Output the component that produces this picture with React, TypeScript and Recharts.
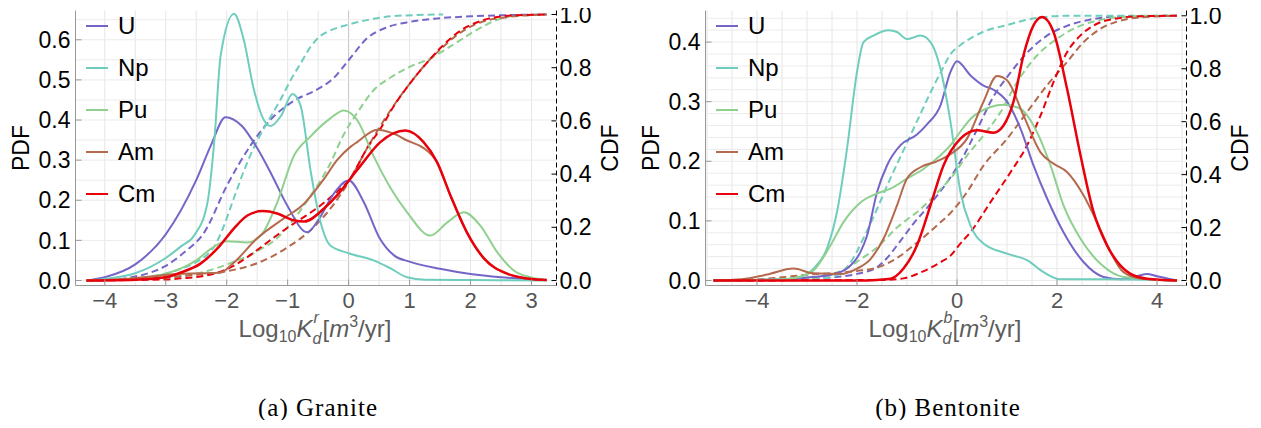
import { LineChart, Line, XAxis, YAxis, ReferenceLine } from "recharts"

type Pt = [number, number]

const species = ["U", "Np", "Pu", "Am", "Cm"]
const colors = ["#7466c8", "#6fcdbd", "#8fd08f", "#b5694d", "#e8000b"]

const graniteXTicks = [-4, -3, -2, -1, 0, 1, 2, 3]
const bentoniteXTicks = [-4, -2, 0, 2, 4]
const granitePdfTicks = [0, 0.1, 0.2, 0.3, 0.4, 0.5, 0.6]
const bentonitePdfTicks = [0, 0.1, 0.2, 0.3, 0.4]
const cdfTicks = [0, 0.2, 0.4, 0.6, 0.8, 1]

// granite, PDF
const graniteU: Pt[] = [[-4.3, 0], [-4, 0.008], [-3.5, 0.04], [-3, 0.115], [-2.5, 0.25], [-2.25, 0.34], [-2.02, 0.407], [-1.75, 0.385], [-1.5, 0.33], [-1.25, 0.26], [-1, 0.185], [-0.68, 0.12], [-0.5, 0.15], [-0.25, 0.215], [0, 0.249], [0.25, 0.195], [0.5, 0.108], [0.75, 0.062], [1, 0.047], [1.5, 0.029], [2, 0.016], [2.5, 0.008], [3, 0.003], [3.25, 0.001]]
const graniteNp: Pt[] = [[-4.3, 0], [-4, 0.004], [-3.5, 0.018], [-3, 0.056], [-2.75, 0.085], [-2.53, 0.113], [-2.32, 0.19], [-2.2, 0.354], [-2.1, 0.56], [-1.88, 0.665], [-1.72, 0.6], [-1.56, 0.48], [-1.39, 0.4], [-1.28, 0.385], [-1.11, 0.41], [-0.92, 0.465], [-0.79, 0.437], [-0.62, 0.27], [-0.46, 0.145], [-0.3, 0.087], [0, 0.068], [0.41, 0.05], [0.69, 0.03], [0.96, 0.008], [1.25, 0.002], [2, 0.001], [3.25, 0]]
const granitePu: Pt[] = [[-4.3, 0], [-3.5, 0.005], [-3, 0.017], [-2.75, 0.03], [-2.5, 0.05], [-2.25, 0.08], [-2, 0.098], [-1.66, 0.095], [-1.44, 0.112], [-1.17, 0.195], [-0.9, 0.31], [-0.62, 0.36], [-0.3, 0.404], [-0.08, 0.424], [0.14, 0.4], [0.41, 0.31], [0.69, 0.23], [0.96, 0.17], [1.34, 0.112], [1.62, 0.145], [1.89, 0.17], [2.16, 0.137], [2.44, 0.07], [2.71, 0.025], [2.98, 0.008], [3.25, 0.001]]
const graniteAm: Pt[] = [[-4.3, 0], [-3.75, 0.003], [-3.25, 0.01], [-2.75, 0.017], [-2.4, 0.018], [-2.1, 0.02], [-1.88, 0.045], [-1.5, 0.105], [-1.06, 0.155], [-0.74, 0.19], [-0.4, 0.254], [-0.19, 0.3], [0.03, 0.333], [0.14, 0.345], [0.47, 0.376], [0.74, 0.366], [0.96, 0.349], [1.23, 0.33], [1.45, 0.295], [1.67, 0.212], [1.94, 0.12], [2.22, 0.055], [2.6, 0.017], [2.93, 0.005], [3.25, 0.001]]
const graniteCm: Pt[] = [[-4.3, 0], [-3.5, 0.002], [-3, 0.008], [-2.75, 0.02], [-2.43, 0.042], [-2.11, 0.087], [-1.88, 0.13], [-1.66, 0.162], [-1.41, 0.173], [-1.17, 0.167], [-0.9, 0.15], [-0.73, 0.147], [-0.4, 0.18], [-0.19, 0.212], [0.03, 0.254], [0.2, 0.287], [0.52, 0.345], [0.93, 0.374], [1.23, 0.345], [1.45, 0.295], [1.67, 0.212], [1.94, 0.12], [2.22, 0.055], [2.6, 0.017], [2.93, 0.005], [3.25, 0.001]]

// granite, CDF
const graniteUCdf: Pt[] = [[-4.3, 0], [-4, 0.002], [-3.5, 0.015], [-3, 0.055], [-2.7, 0.105], [-2.37, 0.18], [-2, 0.355], [-1.61, 0.507], [-1.28, 0.605], [-0.9, 0.675], [-0.5, 0.72], [-0.25, 0.76], [0, 0.828], [0.31, 0.912], [0.63, 0.952], [1, 0.972], [1.4, 0.984], [2, 0.993], [2.5, 0.997], [3.25, 1]]
const graniteNpCdf: Pt[] = [[-4.3, 0], [-4, 0.002], [-3.5, 0.008], [-3, 0.026], [-2.75, 0.044], [-2.53, 0.065], [-2.32, 0.097], [-2.2, 0.129], [-2.1, 0.175], [-1.88, 0.311], [-1.72, 0.411], [-1.56, 0.497], [-1.39, 0.572], [-1.28, 0.615], [-1.11, 0.683], [-0.92, 0.766], [-0.79, 0.815], [-0.62, 0.88], [-0.46, 0.92], [-0.3, 0.94], [0, 0.962], [0.41, 0.984], [0.8, 0.995], [1.55, 1]]
const granitePuCdf: Pt[] = [[-4.3, 0], [-3.5, 0.003], [-3, 0.01], [-2.5, 0.025], [-2, 0.06], [-1.5, 0.11], [-1.17, 0.16], [-0.9, 0.23], [-0.62, 0.32], [-0.3, 0.44], [-0.1, 0.54], [0.14, 0.63], [0.41, 0.715], [0.7, 0.765], [1.02, 0.805], [1.34, 0.835], [1.67, 0.88], [2.05, 0.935], [2.5, 0.985], [2.8, 0.997], [3.25, 1]]
const graniteAmCdf: Pt[] = [[-4.3, 0], [-3.5, 0.005], [-3, 0.012], [-2.5, 0.022], [-2, 0.035], [-1.5, 0.065], [-1, 0.125], [-0.62, 0.19], [-0.3, 0.27], [0, 0.37], [0.31, 0.5], [0.74, 0.658], [1.02, 0.745], [1.29, 0.82], [1.51, 0.87], [1.84, 0.933], [2.16, 0.97], [2.6, 0.99], [3.25, 1]]
const graniteCmCdf: Pt[] = [[-4.3, 0], [-3.5, 0.002], [-3, 0.004], [-2.75, 0.008], [-2.43, 0.015], [-2.11, 0.032], [-1.88, 0.056], [-1.66, 0.088], [-1.41, 0.13], [-1.17, 0.171], [-0.9, 0.214], [-0.73, 0.239], [-0.4, 0.293], [-0.19, 0.334], [0, 0.375], [0.31, 0.5], [0.52, 0.57], [0.74, 0.655], [1.02, 0.745], [1.29, 0.82], [1.51, 0.875], [1.84, 0.94], [2.16, 0.975], [2.6, 0.995], [3.25, 1]]

// bentonite, PDF
const bentoniteU: Pt[] = [[-4.87, 0], [-3.5, 0.002], [-3, 0.005], [-2.5, 0.01], [-2.2, 0.02], [-1.93, 0.048], [-1.8, 0.075], [-1.6, 0.148], [-1.4, 0.193], [-1.13, 0.227], [-0.8, 0.245], [-0.6, 0.262], [-0.33, 0.294], [-0.13, 0.35], [0, 0.368], [0.27, 0.344], [0.53, 0.327], [0.73, 0.32], [1, 0.3], [1.27, 0.255], [1.53, 0.193], [1.8, 0.138], [2.13, 0.081], [2.53, 0.031], [2.93, 0.006], [3.3, 0.002], [3.6, 0.007], [3.8, 0.011], [4, 0.007], [4.4, 0]]
const bentoniteNp: Pt[] = [[-4.87, 0], [-4, 0.001], [-3.5, 0.002], [-3.13, 0.006], [-2.87, 0.02], [-2.6, 0.054], [-2.4, 0.115], [-2.2, 0.221], [-2, 0.35], [-1.87, 0.4], [-1.67, 0.411], [-1.37, 0.42], [-1.2, 0.417], [-1, 0.405], [-0.73, 0.411], [-0.53, 0.4], [-0.33, 0.355], [-0.13, 0.266], [0.07, 0.148], [0.27, 0.092], [0.53, 0.062], [1, 0.045], [1.4, 0.034], [1.73, 0.014], [2.07, 0.002], [3, 0.002], [4.4, 0]]
const bentonitePu: Pt[] = [[-4.87, 0], [-4, 0.001], [-3.5, 0.002], [-3.27, 0.004], [-2.87, 0.017], [-2.53, 0.059], [-2.27, 0.098], [-1.93, 0.131], [-1.6, 0.146], [-1.33, 0.154], [-1, 0.171], [-0.67, 0.187], [-0.33, 0.21], [-0.13, 0.227], [0.07, 0.25], [0.27, 0.271], [0.67, 0.291], [0.93, 0.295], [1.27, 0.288], [1.6, 0.249], [1.87, 0.193], [2.13, 0.126], [2.47, 0.07], [2.87, 0.028], [3.33, 0.006], [4.4, 0]]
const bentoniteAm: Pt[] = [[-4.87, 0], [-4.3, 0.002], [-3.8, 0.01], [-3.27, 0.02], [-2.87, 0.012], [-2.33, 0.011], [-2, 0.02], [-1.73, 0.036], [-1.47, 0.07], [-1.2, 0.126], [-1, 0.171], [-0.73, 0.19], [-0.4, 0.2], [-0.13, 0.212], [0.2, 0.238], [0.53, 0.3], [0.8, 0.343], [1, 0.336], [1.33, 0.277], [1.67, 0.215], [1.93, 0.196], [2.2, 0.182], [2.53, 0.143], [2.8, 0.098], [3.07, 0.048], [3.33, 0.014], [3.7, 0.003], [4.4, 0]]
const bentoniteCm: Pt[] = [[-4.87, 0], [-2, 0], [-1.6, 0.001], [-1.33, 0.003], [-1.07, 0.02], [-0.8, 0.059], [-0.53, 0.126], [-0.27, 0.193], [0.07, 0.238], [0.4, 0.252], [0.73, 0.248], [0.93, 0.26], [1.13, 0.3], [1.33, 0.378], [1.53, 0.428], [1.7, 0.442], [1.93, 0.417], [2.2, 0.322], [2.47, 0.21], [2.73, 0.115], [3, 0.059], [3.27, 0.025], [3.47, 0.011], [3.8, 0.003], [4.4, 0]]

// bentonite, CDF
const bentoniteUCdf: Pt[] = [[-4.87, 0], [-3.5, 0.003], [-3, 0.006], [-2.5, 0.012], [-2, 0.025], [-1.6, 0.05], [-1.4, 0.085], [-1.13, 0.15], [-0.87, 0.215], [-0.53, 0.29], [-0.13, 0.39], [0.13, 0.47], [0.4, 0.57], [0.73, 0.695], [1.07, 0.785], [1.4, 0.86], [1.8, 0.925], [2.2, 0.962], [2.67, 0.986], [3.2, 0.997], [4.4, 1]]
const bentoniteNpCdf: Pt[] = [[-4.87, 0], [-3.5, 0.002], [-3, 0.005], [-2.6, 0.01], [-2.4, 0.02], [-2.2, 0.05], [-2, 0.11], [-1.87, 0.16], [-1.67, 0.24], [-1.37, 0.37], [-1, 0.52], [-0.73, 0.63], [-0.53, 0.71], [-0.33, 0.785], [-0.13, 0.855], [0.07, 0.89], [0.27, 0.915], [0.53, 0.94], [1, 0.965], [1.4, 0.985], [1.73, 0.995], [2.2, 1], [4.4, 1]]
const bentonitePuCdf: Pt[] = [[-4.87, 0], [-4, 0.001], [-3.27, 0.004], [-2.87, 0.01], [-2.53, 0.022], [-2.27, 0.04], [-1.93, 0.08], [-1.6, 0.125], [-1.2, 0.2], [-0.73, 0.27], [-0.33, 0.345], [-0.13, 0.385], [0.2, 0.472], [0.53, 0.548], [0.87, 0.636], [1.2, 0.749], [1.6, 0.85], [2, 0.913], [2.4, 0.957], [2.8, 0.982], [3.3, 0.995], [4, 1], [4.4, 1]]
const bentoniteAmCdf: Pt[] = [[-4.87, 0], [-4, 0.004], [-3.5, 0.012], [-3, 0.022], [-2.5, 0.028], [-2, 0.036], [-1.5, 0.055], [-1.2, 0.085], [-0.87, 0.132], [-0.33, 0.22], [-0.13, 0.255], [0.2, 0.334], [0.53, 0.434], [1, 0.535], [1.4, 0.636], [1.8, 0.737], [2.2, 0.825], [2.53, 0.9], [2.87, 0.951], [3.2, 0.978], [3.6, 0.993], [4.4, 1]]
const bentoniteCmCdf: Pt[] = [[-4.87, 0], [-1.5, 0.002], [-1.07, 0.008], [-0.73, 0.03], [-0.33, 0.069], [-0.13, 0.094], [0.07, 0.14], [0.27, 0.183], [0.67, 0.296], [1.07, 0.409], [1.4, 0.51], [1.67, 0.623], [1.93, 0.749], [2.2, 0.862], [2.47, 0.926], [2.8, 0.97], [3.2, 0.99], [3.6, 0.998], [4.4, 1]]

const font = "'Liberation Sans', Arial, sans-serif"
const toPts = (a: Pt[]) => a.map(([x, y]) => ({ x, y }))
const minus = (v: number) => (v < 0 ? `\u2212${Math.abs(v)}` : `${v}`)
const steps = (from: number, to: number, step: number) => {
  const out: number[] = []
  for (let v = from; v <= to + 1e-9; v += step) out.push(Math.round(v * 1000) / 1000)
  return out
}

interface PanelProps {
  left: number
  pdfs: Pt[][]
  cdfs: Pt[][]
  xDomain: [number, number]
  xTicks: number[]
  pdfDomain: [number, number]
  pdfTicks: number[]
  cdfDomain: [number, number]
  gridY: number[]
  sup: string
  caption: string
}

// Log10 K_d^x [m^3/yr], sub and sup stacked after the K
function XTitle({ sup }: { sup: string }) {
  const small = { fontSize: 16, lineHeight: "16px" }
  return (
    <div style={{ position: "absolute", left: 315, top: 329, transform: "translate(-50%,-50%)", color: "#5c5c5c", fontSize: 24, whiteSpace: "nowrap", lineHeight: "30px" }}>
      Log<span style={{ ...small, position: "relative", top: 5 }}>10</span>
      <i>K</i>
      <span style={{ position: "relative", display: "inline-block", width: 10, height: 0 }}>
        <i style={{ ...small, position: "absolute", left: 1, top: -27 }}>{sup}</i>
        <i style={{ ...small, position: "absolute", left: 0, top: -6 }}>d</i>
      </span>
      [<i>m</i>
      <span style={{ ...small, position: "relative", top: -10 }}>3</span>/yr]
    </div>
  )
}

function Panel({ left, pdfs, cdfs, xDomain, xTicks, pdfDomain, pdfTicks, cdfDomain, gridY, sup, caption }: PanelProps) {
  const gridX = steps(Math.ceil(xDomain[0] * 2) / 2, xDomain[1], 0.5)
  return (
    <div style={{ position: "absolute", left, top: 0, width: 630, height: 428, fontFamily: font }}>
      <LineChart width={630} height={340} margin={{ top: 10.5, right: 0, bottom: 0, left: 0 }}>
        {gridX.map((v) => (
          <ReferenceLine key={"gx" + v} x={v} yAxisId="pdf" stroke={v === 0 ? "#c4c4c4" : "#e6e6e6"} strokeWidth={1} />
        ))}
        {gridY.map((v) => (
          <ReferenceLine key={"gy" + v} y={v} yAxisId="pdf" stroke="#ebebeb" strokeWidth={1} />
        ))}
        <XAxis
          type="number"
          dataKey="x"
          domain={xDomain}
          ticks={xTicks}
          allowDataOverflow
          height={54.5}
          tickFormatter={minus}
          axisLine={{ stroke: "#999" }}
          tickLine={{ stroke: "#999" }}
          tickSize={-6}
          tickMargin={13}
          tick={{ fill: "#555", fontSize: 22, fontFamily: font }}
        />
        <XAxis xAxisId="top" orientation="top" type="number" domain={xDomain} height={0} tick={false} tickLine={false} axisLine={{ stroke: "#aaa" }} />
        <YAxis
          yAxisId="pdf"
          type="number"
          domain={pdfDomain}
          ticks={pdfTicks}
          allowDataOverflow
          width={75.5}
          tickFormatter={(v: number) => v.toFixed(1)}
          axisLine={{ stroke: "#999" }}
          tickLine={{ stroke: "#999" }}
          tickSize={-6}
          tickMargin={11}
          tick={{ fill: "#000", fontSize: 23, fontFamily: font }}
        />
        <YAxis
          yAxisId="cdf"
          orientation="right"
          type="number"
          domain={cdfDomain}
          ticks={cdfTicks}
          allowDataOverflow
          width={73.5}
          tickFormatter={(v: number) => v.toFixed(1)}
          axisLine={{ stroke: "#000", strokeDasharray: "5 3" }}
          tickLine={{ stroke: "#000" }}
          tickSize={-5}
          tickMargin={8}
          tick={{ fill: "#000", fontSize: 23, fontFamily: font }}
        />
        {cdfs.map((d, i) => (
          <Line
            key={"c" + i}
            data={toPts(d)}
            dataKey="y"
            yAxisId="cdf"
            type="monotone"
            stroke={colors[i]}
            strokeWidth={2}
            strokeDasharray="7 4"
            dot={false}
            isAnimationActive={false}
          />
        ))}
        {pdfs.map((d, i) => (
          <Line
            key={"p" + i}
            data={toPts(d)}
            dataKey="y"
            yAxisId="pdf"
            type="monotone"
            stroke={colors[i]}
            strokeWidth={i === 4 ? 2.5 : 2}
            dot={false}
            isAnimationActive={false}
          />
        ))}
      </LineChart>

      {/* legend */}
      {species.map((s, i) => (
        <div key={s} style={{ position: "absolute", left: 86, top: 26 + i * 42 - 15, height: 30, display: "flex", alignItems: "center" }}>
          <span style={{ display: "inline-block", width: 22, height: 2, background: colors[i], marginRight: 10 }} />
          <span style={{ fontSize: 24, color: "#000" }}>{s}</span>
        </div>
      ))}

      <div style={{ position: "absolute", left: 21, top: 148, transform: "translate(-50%,-50%) rotate(-90deg)", fontSize: 23 }}>PDF</div>
      <div style={{ position: "absolute", left: 610, top: 148, transform: "translate(-50%,-50%) rotate(-90deg)", fontSize: 23 }}>CDF</div>

      <XTitle sup={sup} />

      <div style={{ position: "absolute", left: 318, top: 408, transform: "translate(-50%,-50%)", fontFamily: "'Liberation Serif', 'Times New Roman', serif", fontSize: 25, letterSpacing: 1, whiteSpace: "nowrap" }}>
        {caption}
      </div>
    </div>
  )
}

export default function App() {
  return (
    <div style={{ position: "relative", width: 1261, height: 428, margin: -8, background: "#fff", overflow: "hidden" }}>
      <Panel
        left={0}
        pdfs={[graniteU, graniteNp, granitePu, graniteAm, graniteCm]}
        cdfs={[graniteUCdf, graniteNpCdf, granitePuCdf, graniteAmCdf, graniteCmCdf]}
        xDomain={[-4.48, 3.41]}
        xTicks={graniteXTicks}
        pdfDomain={[-0.0125, 0.673]}
        pdfTicks={granitePdfTicks}
        cdfDomain={[-0.0188, 1.015]}
        gridY={steps(0, 0.65, 0.05)}
        sup="r"
        caption="(a) Granite"
      />
      <Panel
        left={630}
        pdfs={[bentoniteU, bentoniteNp, bentonitePu, bentoniteAm, bentoniteCm]}
        cdfs={[bentoniteUCdf, bentoniteNpCdf, bentonitePuCdf, bentoniteAmCdf, bentoniteCmCdf]}
        xDomain={[-5.03, 4.59]}
        xTicks={bentoniteXTicks}
        pdfDomain={[-0.0084, 0.453]}
        pdfTicks={bentonitePdfTicks}
        cdfDomain={[-0.0189, 1.02]}
        gridY={steps(0, 0.44, 0.02)}
        sup="b"
        caption="(b) Bentonite"
      />
    </div>
  )
}
